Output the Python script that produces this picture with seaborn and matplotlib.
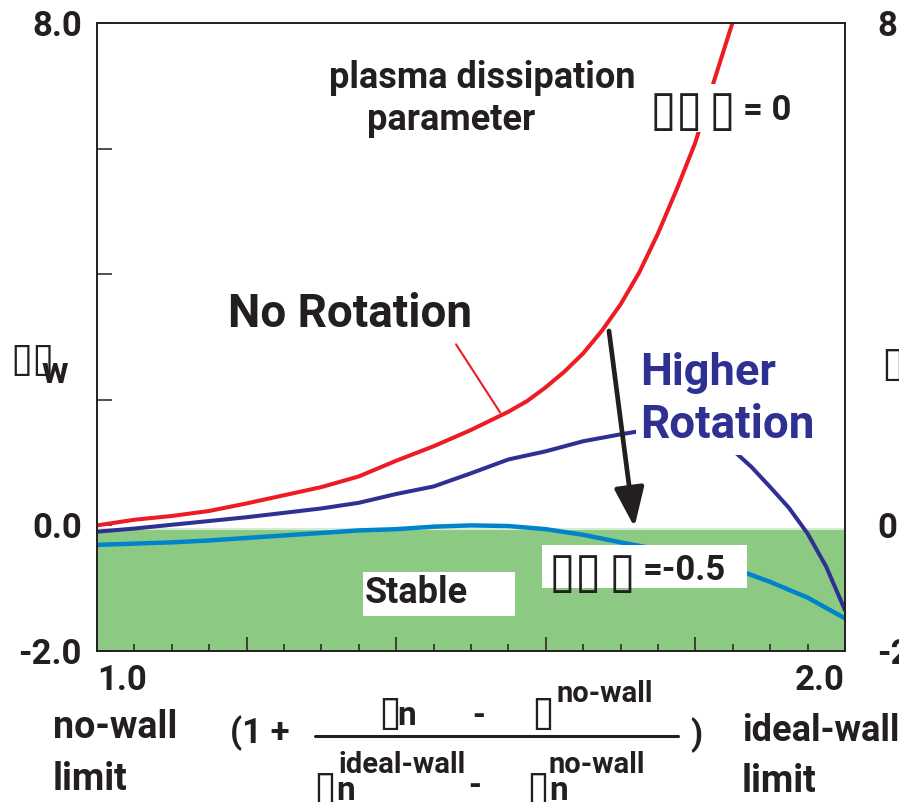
import matplotlib
matplotlib.use("Agg")
import matplotlib.pyplot as plt
from matplotlib.patches import Rectangle, FancyArrowPatch
from matplotlib.lines import Line2D
import pandas as pd
import seaborn as sns

# ---- curve data: growth rate vs. normalised beta ----
beta_norm = [1.00, 1.05, 1.10, 1.15, 1.20, 1.25, 1.30, 1.35, 1.40, 1.45,
             1.50, 1.55, 1.575, 1.60, 1.625, 1.65, 1.675, 1.70, 1.725, 1.75,
             1.775, 1.80, 1.825, 1.85]
gamma_no_rotation = [0.00, 0.09, 0.15, 0.23, 0.35, 0.48, 0.61, 0.78, 1.03, 1.26,
                     1.52, 1.81, 1.98, 2.20, 2.45, 2.74, 3.10, 3.52, 4.03, 4.65,
                     5.35, 6.10, 7.08, 8.02]

beta_rot = [1.00, 1.05, 1.10, 1.15, 1.20, 1.25, 1.30, 1.35, 1.40, 1.45,
            1.50, 1.55, 1.60, 1.65, 1.70, 1.75, 1.80, 1.85, 1.875, 1.90,
            1.925, 1.95, 1.975, 2.00]
gamma_higher_rotation = [-0.10, -0.05, 0.01, 0.07, 0.13, 0.20, 0.27, 0.36, 0.50, 0.62,
                         0.83, 1.05, 1.18, 1.34, 1.45, 1.55, 1.50, 1.20, 0.93, 0.61,
                         0.28, -0.13, -0.66, -1.35]

beta_diss = [1.00, 1.05, 1.10, 1.15, 1.20, 1.25, 1.30, 1.35, 1.40, 1.45,
             1.50, 1.55, 1.60, 1.65, 1.70, 1.75, 1.80, 1.85, 1.90, 1.95, 2.00]
gamma_dissipation = [-0.31, -0.29, -0.27, -0.24, -0.20, -0.16, -0.12, -0.08, -0.06, -0.02,
                     0.00, -0.01, -0.06, -0.15, -0.27, -0.38, -0.52, -0.68, -0.90, -1.15, -1.48]

stable_band = (-2.0, -0.05)

x_ticks = [1.0, 1.2, 1.4, 1.6, 1.8, 2.0]
x_tick_labels = ["1.0", "", "", "", "", "2.0"]
y_ticks = [-2, 0, 2, 4, 6, 8]
y_tick_labels = ["-2.0", "0.0", "", "", "", "8.0"]

RED = "#ed1c24"
NAVY = "#2e3192"
CYAN = "#0083ca"
GREEN = "#8cca84"
INK = "#231f20"

sns.set_theme(style="white")
plt.rcParams["font.family"] = ["Roboto", "DejaVu Sans"]
plt.rcParams["font.weight"] = "bold"

W, H = 899, 802
fig = plt.figure(figsize=(W / 100, H / 100), dpi=100)
fig.patch.set_facecolor("white")


def fx(px):
    return px / W


def fy(py):
    return 1 - py / H


ax = fig.add_axes([fx(97), fy(651), fx(845) - fx(97), fy(23) - fy(651)])
ax.set_facecolor("white")

# stable region
ax.axhspan(*stable_band, facecolor=GREEN, edgecolor="#d4ecd0", lw=1.5, zorder=0.5)

df_nr = pd.DataFrame({"beta": beta_norm, "gamma": gamma_no_rotation})
df_hr = pd.DataFrame({"beta": beta_rot, "gamma": gamma_higher_rotation})
df_pd = pd.DataFrame({"beta": beta_diss, "gamma": gamma_dissipation})
sns.lineplot(data=df_pd, x="beta", y="gamma", color=CYAN, lw=3.2, ax=ax, zorder=2)
sns.lineplot(data=df_hr, x="beta", y="gamma", color=NAVY, lw=2.9, ax=ax, zorder=2)
sns.lineplot(data=df_nr, x="beta", y="gamma", color=RED, lw=2.9, ax=ax, zorder=2)

ax.set_xlim(1.0, 2.0)
ax.set_ylim(-2.0, 8.0)
ax.set_xlabel("")
ax.set_ylabel("")
ax.set_xticks(x_ticks)
ax.set_xticks([1.0 + 0.05 * i for i in range(21)], minor=True)
ax.set_xticklabels(x_tick_labels, fontsize=25, fontweight="bold", color=INK)
ax.set_yticks(y_ticks)
ax.set_yticklabels(y_tick_labels, fontsize=25, fontweight="bold", color=INK)
ax.tick_params(axis="x", which="major", direction="in", length=10, width=1.1,
               color=INK, pad=9, bottom=True, top=False)
ax.tick_params(axis="x", which="minor", direction="in", length=5, width=1.1,
               color=INK, bottom=True, top=False)
ax.tick_params(axis="y", which="major", direction="in", length=11, width=1.1,
               color=INK, pad=11, left=True, right=False)
lbls = ax.get_xticklabels()
lbls[0].set_ha("left")
lbls[-1].set_ha("right")
for side, sp in ax.spines.items():
    sp.set_color(INK)
    sp.set_linewidth(1.4)
    sp.set_zorder(3)

ax2 = ax.twinx()
ax2.set_ylim(-2.0, 8.0)
ax2.set_yticks(y_ticks)
ax2.set_yticklabels(y_tick_labels, fontsize=25, fontweight="bold", color=INK)
ax2.tick_params(axis="y", length=0, pad=23)
ax2.grid(False)
for sp in ax2.spines.values():
    sp.set_visible(False)

# downward arrow: effect of rotation
ax.add_patch(FancyArrowPatch((1.684, 3.14), (1.719, -0.07),
                             arrowstyle="-|>,head_length=1.0,head_width=0.38",
                             mutation_scale=24, lw=3.4, color=INK, zorder=4))
# leader to the no-rotation curve
ax.annotate("", xy=(1.541, 1.76), xytext=(1.478, 2.92),
            arrowprops=dict(arrowstyle="-", color=RED, lw=1.5), zorder=4)

# white backing boxes for labels placed over the curves
for (x0, y0, x1, y1) in [(636, 342, 816, 455), (650, 84, 800, 132),
                         (542, 545, 747, 588), (363, 572, 515, 616)]:
    fig.add_artist(Rectangle((fx(x0), fy(y1)), fx(x1) - fx(x0), fy(y0) - fy(y1),
                             transform=fig.transFigure, facecolor="white",
                             edgecolor="none", zorder=2))


def label(px, py, s, size, ha="left", color=INK, **kw):
    fig.text(fx(px), fy(py), s, fontsize=size, fontweight="bold", color=color,
             ha=ha, va="baseline", zorder=3, **kw)


def tofu(px, py, s, size=35):
    fig.text(fx(px), fy(py), s, fontsize=size, fontweight="normal", color=INK,
             family="DejaVu Sans", ha="left", va="baseline", zorder=3)


label(482, 88, "plasma dissipation", 26, ha="center")
label(451, 130, "parameter", 26, ha="center")
tofu(650, 125, "▯▯")
tofu(709, 125, "▯")
label(743, 120, "= 0", 25)
label(228, 327, "No Rotation", 33)
label(640, 385, "Higher", 32.5, color=NAVY)
label(640, 438, "Rotation", 33, color=NAVY)
label(365, 603, "Stable", 26)
tofu(549, 587, "▯▯")
tofu(609, 587, "▯")
label(643, 580, "=-0.5", 25)

# axis titles
tofu(10, 371, "▯▯", 29)
label(42, 383, "w", 26)
tofu(881, 376, "▯", 30)

label(53, 738, "no-wall", 27)
label(53, 790, "limit", 27)
label(742, 741, "ideal-wall", 26)
label(742, 792, "limit", 27)

label(230, 743, "(1 +", 25)
tofu(378, 725, "▯", 30)
label(397, 725, "n", 24)
label(479, 725, "-", 24, ha="center")
tofu(531, 725, "▯", 30)
label(556, 702, "no-wall", 21)
fig.add_artist(Line2D([fx(315), fx(678)], [fy(736), fy(736)], color=INK, lw=2.2,
                      transform=fig.transFigure, zorder=3))
tofu(313, 800, "▯", 30)
label(336, 800, "n", 24)
label(338, 773, "ideal-wall", 21)
label(475, 795, "-", 24, ha="center")
tofu(526, 800, "▯", 30)
label(549, 800, "n", 24)
label(549, 773, "no-wall", 21)
label(690, 745, ")", 25)

fig.savefig("out.png", dpi=100)
